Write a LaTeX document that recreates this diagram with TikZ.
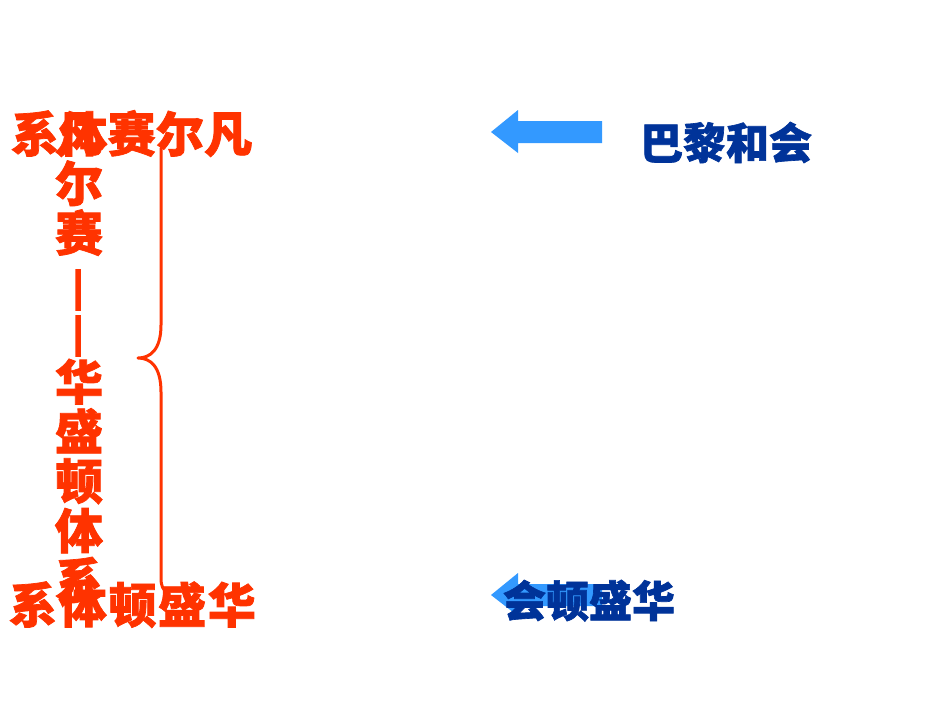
\documentclass[tikz,border=0pt]{standalone}
\usepackage{fontspec}
\newfontfamily\cjk[BoldFeatures={FakeBold=1.5}]{Noto Sans CJK SC}
\newfontfamily\cjkdash[FakeBold=5]{Noto Sans CJK SC}
\definecolor{redor}{HTML}{FF3300}
\definecolor{navy}{HTML}{003399}
\definecolor{sky}{HTML}{3399FF}
\begin{document}
\begin{tikzpicture}[x=1pt,y=-1pt,
  redch/.style={anchor=base,inner sep=0pt,text=redor,font=\cjk\bfseries\fontsize{48}{48}\selectfont},
  reddash/.style={anchor=center,inner sep=0pt,text=redor,font=\cjkdash\fontsize{49}{49}\selectfont,rotate=-90},
  bluech/.style={anchor=base,inner sep=0pt,text=navy,font=\cjk\bfseries\fontsize{43}{43}\selectfont},
  bracestyle/.style={draw=redor,line width=3pt,line cap=round,line join=round}]
\useasboundingbox[fill=white] (0,0) rectangle (950,713);
% arrows
\fill[sky] (491,132) -- (518,110) -- (518,121) -- (602,121) -- (602,143) -- (518,143) -- (518,153) -- cycle;
\fill[sky] (491,595) -- (518,573) -- (518,584) -- (602,584) -- (602,606) -- (518,606) -- (518,616) -- cycle;
% brace
\coordinate (bt) at (161,148);
\coordinate (bc) at (138,358);
\coordinate (bb) at (167,592);
\draw[bracestyle] (bt) -- (161,325) .. controls (161,350) and (150,358) .. (bc)
  .. controls (150,358) and (161,366) .. (161,392) -- (161,578) .. controls (161,586) and (163,590) .. (bb);
% vertical column
\node[redch] (v0) at (79,152) {凡};
\node[redch] (v1) at (79,201.6) {尔};
\node[redch] (v2) at (79,251.2) {赛};
\node[reddash] (v3) at (72,290) {—};
\node[reddash] (v4) at (72,336) {—};
\node[redch] (v5) at (79,400) {华};
\node[redch] (v6) at (79,449.6) {盛};
\node[redch] (v7) at (79,499.2) {顿};
\node[redch] (v8) at (79,548.8) {体};
\node[redch] (v9) at (79,598.4) {系};
% top row
\node[redch] (t0) at (35,152) {系};
\node[redch] (t1) at (83.3,152) {体};
\node[redch] (t2) at (131.6,152) {赛};
\node[redch] (t3) at (179.9,152) {尔};
\node[redch] (t4) at (228.2,152) {凡};
% bottom row
\node[redch] (b0) at (33,623) {系};
\node[redch] (b1) at (82.7,623) {体};
\node[redch] (b2) at (132.4,623) {顿};
\node[redch] (b3) at (182.1,623) {盛};
\node[redch] (b4) at (231.8,623) {华};
% blue labels
\node[bluech] (paris) at (726,159) {巴黎和会};
\node[bluech] (wash) at (589,617) {会顿盛华};
\end{tikzpicture}
\end{document}
